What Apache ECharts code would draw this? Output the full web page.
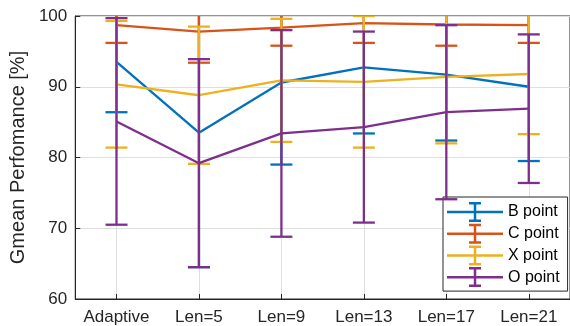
<!DOCTYPE html>
<html>
<head>
<meta charset="utf-8">
<script src="https://cdn.jsdelivr.net/npm/echarts@6/dist/echarts.min.js"></script>
<style>html,body{margin:0;padding:0;background:#fff}#c{width:570px;height:326px}</style>
</head>
<body>
<div id="c"></div>
<script>
var categories = ['Adaptive', 'Len=5', 'Len=9', 'Len=13', 'Len=17', 'Len=21'];
var seriesNames = ['B point', 'C point', 'X point', 'O point'];
var colors = ['#0072BD', '#D95319', '#EDB120', '#7E2F8E'];
var bMean = [93.5, 83.5, 90.6, 92.75, 91.7, 90.0];
var bErr  = [7.1, 19.0, 11.6, 9.35, 9.3, 10.5];
var cMean = [98.7, 97.8, 98.35, 99.0, 98.8, 98.7];
var cErr  = [2.5, 4.4, 2.55, 2.8, 3.0, 2.5];
var xMean = [90.35, 88.8, 90.9, 90.7, 91.4, 91.8];
var xErr  = [8.95, 9.7, 8.7, 9.3, 9.4, 8.5];
var oMean = [85.1, 79.2, 83.4, 84.3, 86.4, 86.9];
var oErr  = [14.6, 14.7, 14.6, 13.5, 12.3, 10.5];
var yTicks = [60, 70, 80, 90, 100];

var means = [bMean, cMean, xMean, oMean];
var errs = [bErr, cErr, xErr, oErr];

var chart = echarts.init(document.getElementById('c'), null, {renderer: 'canvas'});
var FONT = 'Liberation Sans, Arial, Helvetica, sans-serif';
var LW = 2.3;
var series = [];
seriesNames.forEach(function (name, i) {
  var data = means[i].map(function (m, k) { return [k, m, errs[i][k]]; });
  series.push({
    name: name,
    type: 'custom',
    clip: true,
    z: 10 + i * 2,
    itemStyle: {color: colors[i]},
    data: data,
    encode: {x: 0, y: 1},
    renderItem: function (params, api) {
      var x = api.value(0), m = api.value(1), e = api.value(2);
      var lo = api.coord([x, m - e]);
      var hi = api.coord([x, m + e]);
      var cw = 11;
      var st = {stroke: colors[i], lineWidth: LW};
      return {
        type: 'group',
        children: [
          {type: 'line', shape: {x1: lo[0], y1: lo[1], x2: hi[0], y2: hi[1]}, style: st},
          {type: 'line', shape: {x1: lo[0] - cw, y1: lo[1], x2: lo[0] + cw, y2: lo[1]}, style: st},
          {type: 'line', shape: {x1: hi[0] - cw, y1: hi[1], x2: hi[0] + cw, y2: hi[1]}, style: st}
        ]
      };
    }
  });
  series.push({
    name: name,
    type: 'line',
    z: 11 + i * 2,
    clip: true,
    symbol: 'none',
    data: means[i],
    itemStyle: {color: colors[i]},
    lineStyle: {color: colors[i], width: LW}
  });
});

var icon = 'path://M0,8.8h56v2.5H0z M26.75,0h2.5v20h-2.5z M22,0h12v2.5H22z M22,17.5h12v2.5H22z';

chart.setOption({
  animation: false,
  backgroundColor: '#fff',
  textStyle: {fontFamily: FONT},
  grid: {left: 69, top: 16, width: 506, height: 283, show: true, borderColor: '#262626', borderWidth: 1, backgroundColor: 'transparent'},
  legend: {
    orient: 'vertical',
    left: 443, top: 197,
    padding: [5, 8, 4, 4],
    itemWidth: 56, itemHeight: 20, itemGap: 1.7,
    backgroundColor: '#fff',
    borderColor: '#262626', borderWidth: 1,
    borderRadius: 0,
    icon: icon,
    itemStyle: {borderWidth: 0},
    textStyle: {fontFamily: FONT, fontSize: 16, color: '#000'},
    data: seriesNames.map(function (n) { return {name: n, icon: icon}; }),
    selectedMode: false
  },
  xAxis: {
    type: 'category',
    data: categories,
    boundaryGap: true,
    axisLine: {lineStyle: {color: '#262626', width: 1}},
    axisTick: {show: true, inside: true, interval: 0, alignWithLabel: true, length: 5, lineStyle: {color: '#262626'}},
    axisLabel: {color: '#262626', fontSize: 17, margin: 10, interval: 0, hideOverlap: false, fontFamily: FONT},
    splitLine: {show: true, interval: 0, alignWithLabel: true, lineStyle: {color: '#dfdfdf', width: 1}}
  },
  yAxis: {
    type: 'value',
    min: yTicks[0], max: yTicks[yTicks.length - 1], interval: 10,
    name: 'Gmean Perfomance [%]',
    nameLocation: 'middle',
    nameGap: 41,
    nameTextStyle: {color: '#262626', fontSize: 20, fontFamily: FONT},
    axisLine: {show: true, lineStyle: {color: '#262626', width: 1}},
    axisTick: {show: true, inside: true, length: 5, lineStyle: {color: '#262626'}},
    axisLabel: {color: '#262626', fontSize: 17, margin: 8, fontFamily: FONT},
    splitLine: {show: true, lineStyle: {color: '#dfdfdf', width: 1}}
  },
  series: series
});
</script>
</body>
</html>
